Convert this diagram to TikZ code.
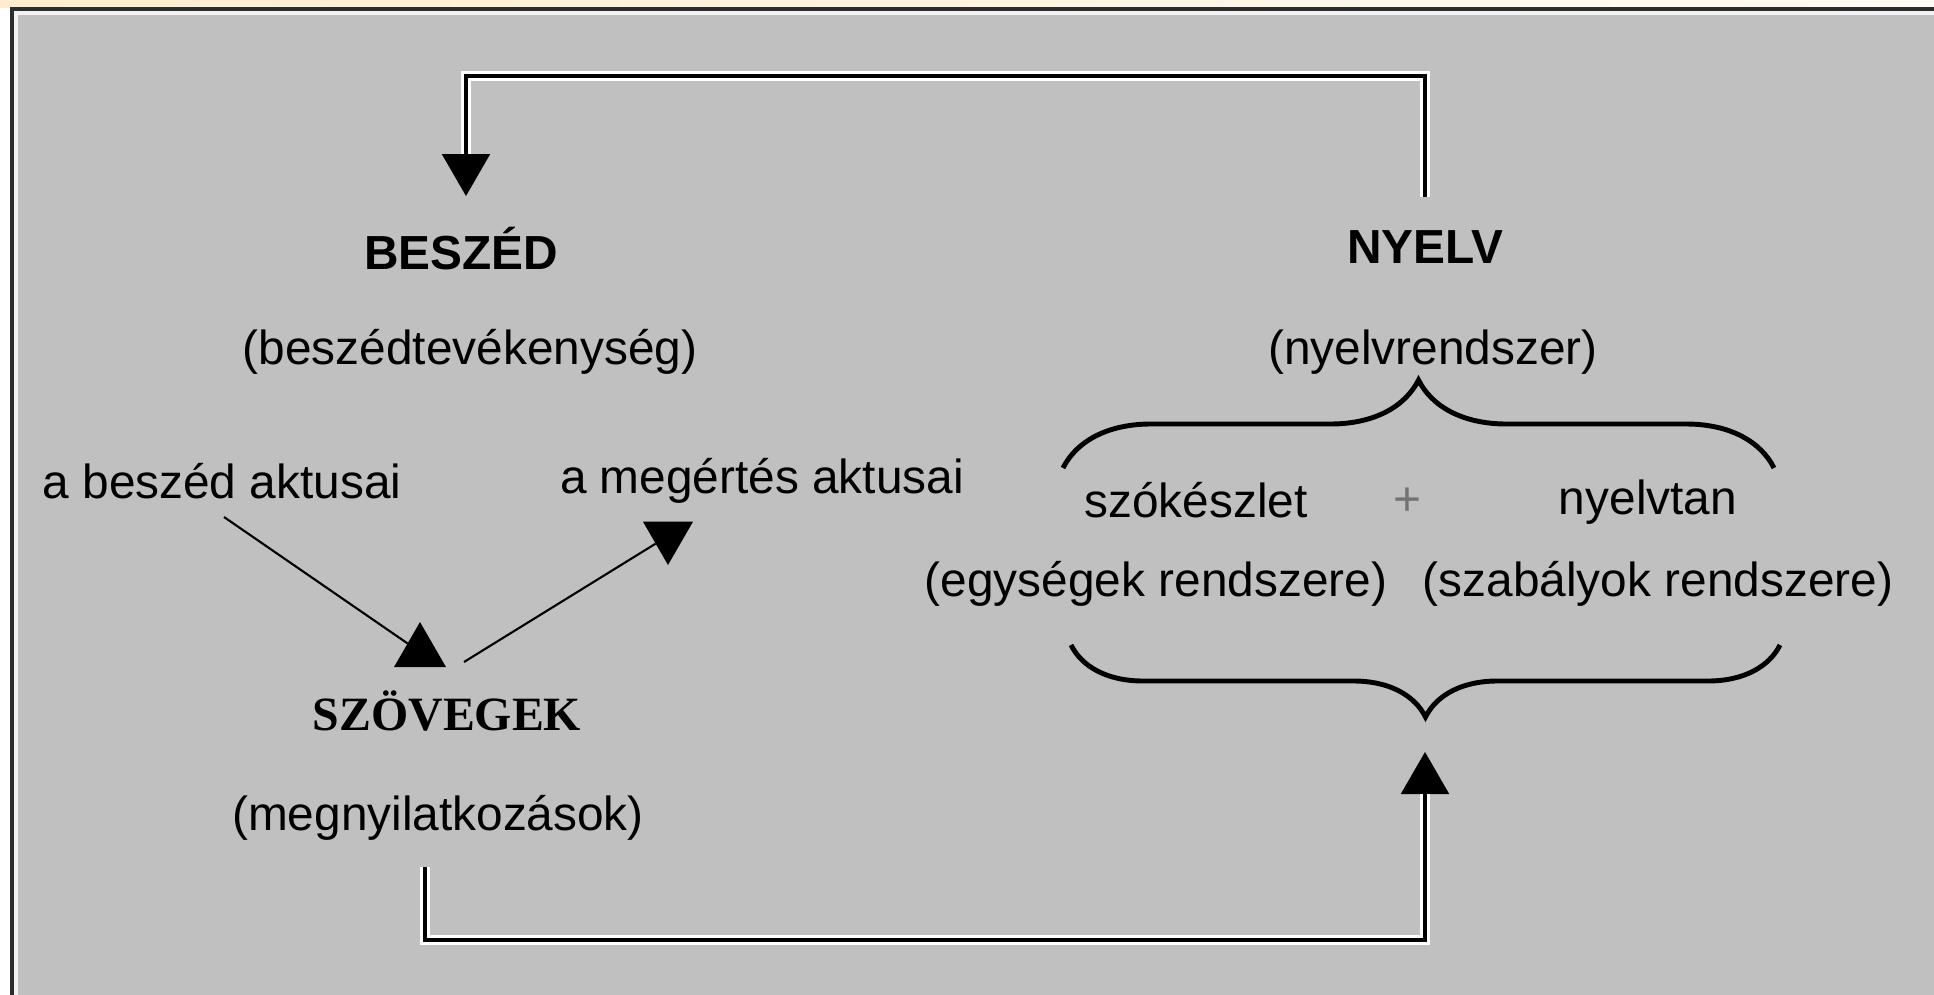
\documentclass[tikz,border=0pt]{standalone}
\usepackage{fontspec}
\setmainfont{Liberation Sans}
\newfontfamily\serifface{Liberation Serif}
\usetikzlibrary{shapes}
\usetikzlibrary{decorations.pathreplacing}
\definecolor{panelgray}{RGB}{192,192,192}
\definecolor{framedark}{RGB}{44,44,44}
\definecolor{creamL}{RGB}{255,236,205}
\definecolor{creamR}{RGB}{255,251,244}
\tikzset{
    txt/.style = {inner sep=0pt, anchor=base, font=\fontsize{13.6}{16}\selectfont},
    headtxt/.style = {txt, font=\fontsize{13.6}{16}\selectfont\bfseries},
    serifhead/.style = {txt, font=\fontsize{13.6}{16}\selectfont\serifface\bfseries},
    tipup/.style = {regular polygon, regular polygon sides=3, fill=black, draw=none, inner sep=0pt, outer sep=0pt, minimum size=5.6mm},
    tipdown/.style = {tipup, shape border rotate=180},
    edgen/.style = {black, line width=0.6pt},
    wire/.style = {black, line width=1pt, preaction={draw=white, line width=2.6pt}}, % loop
    brc/.style = {black, line width=1.4pt, decorate, decoration={brace, amplitude=#1}}
}

\begin{document}
\begin{tikzpicture}[x=0.1mm, y=-0.1mm]
\useasboundingbox (0,0) rectangle (1934,995);
%
\fill[white] (0,0) rectangle (1934,995);
\shade[left color=creamL, right color=creamR] (0,0) rectangle (1934,7);
\fill[framedark] (10,7) rectangle (1934,11);
\fill[framedark] (10,7) rectangle (14,995);
\fill[white!95!black] (14,11) rectangle (1934,15);
\fill[white!95!black] (14,11) rectangle (18,995);
\fill[panelgray] (18,15) rectangle (1934,995);
%
\node[headtxt] at (461, 269) (beszed) {BESZÉD};
\node[txt] at (470, 364) (beszedt) {(beszédtevékenység)};
\node[headtxt] at (1425, 263) (nyelv) {NYELV};
\node[txt] at (1433, 364) (nyelvr) {(nyelvrendszer)};
\node[txt] at (222, 498) (akt1) {a beszéd aktusai};
\node[txt] at (762, 493) (akt2) {a megértés aktusai};
\node[serifhead] at (447, 730) (szov) {SZÖVEGEK};
\node[txt] at (438, 830) (megny) {(megnyilatkozások)};
\node[txt] at (1196, 517) (szok) {szókészlet};
\node[txt, text=black!55] at (1407, 515) (plus) {+};
\node[txt] at (1648, 514) (nyt) {nyelvtan};
\node[txt] at (1156, 596) (egys) {(egységek rendszere)};
\node[txt] at (1658, 596) (szab) {(szabályok rendszere)};
%
\node[tipdown] at (466, 168) (tipA) {};
\node[tipup] at (1425, 780) (tipB) {};
\node[tipup, minimum size=6mm] at (420, 652) (tri1) {};
\node[tipdown, minimum size=5.8mm] at (668, 536) (tri2) {};
%
\coordinate (akt1foot) at (224, 517);
\coordinate (szovtop) at (464, 662);
\coordinate (nyelvtop) at (1425, 197);
\coordinate (megnyfoot) at (425, 867);
%
\draw[edgen] (akt1foot) -- (tri1);
\draw[edgen] (szovtop) -- (tri2);
\draw[wire] (nyelvtop) -- ++(0,-121) -| (tipA.side 2);
\draw[wire] (megnyfoot) -- ++(0,73) -| (tipB.side 2);
%
\draw[brc=8.8mm] (1063, 468) -- (1774, 468);
\draw[brc=7.2mm] (1780, 645) -- (1071, 645);

\end{tikzpicture}
\end{document}
